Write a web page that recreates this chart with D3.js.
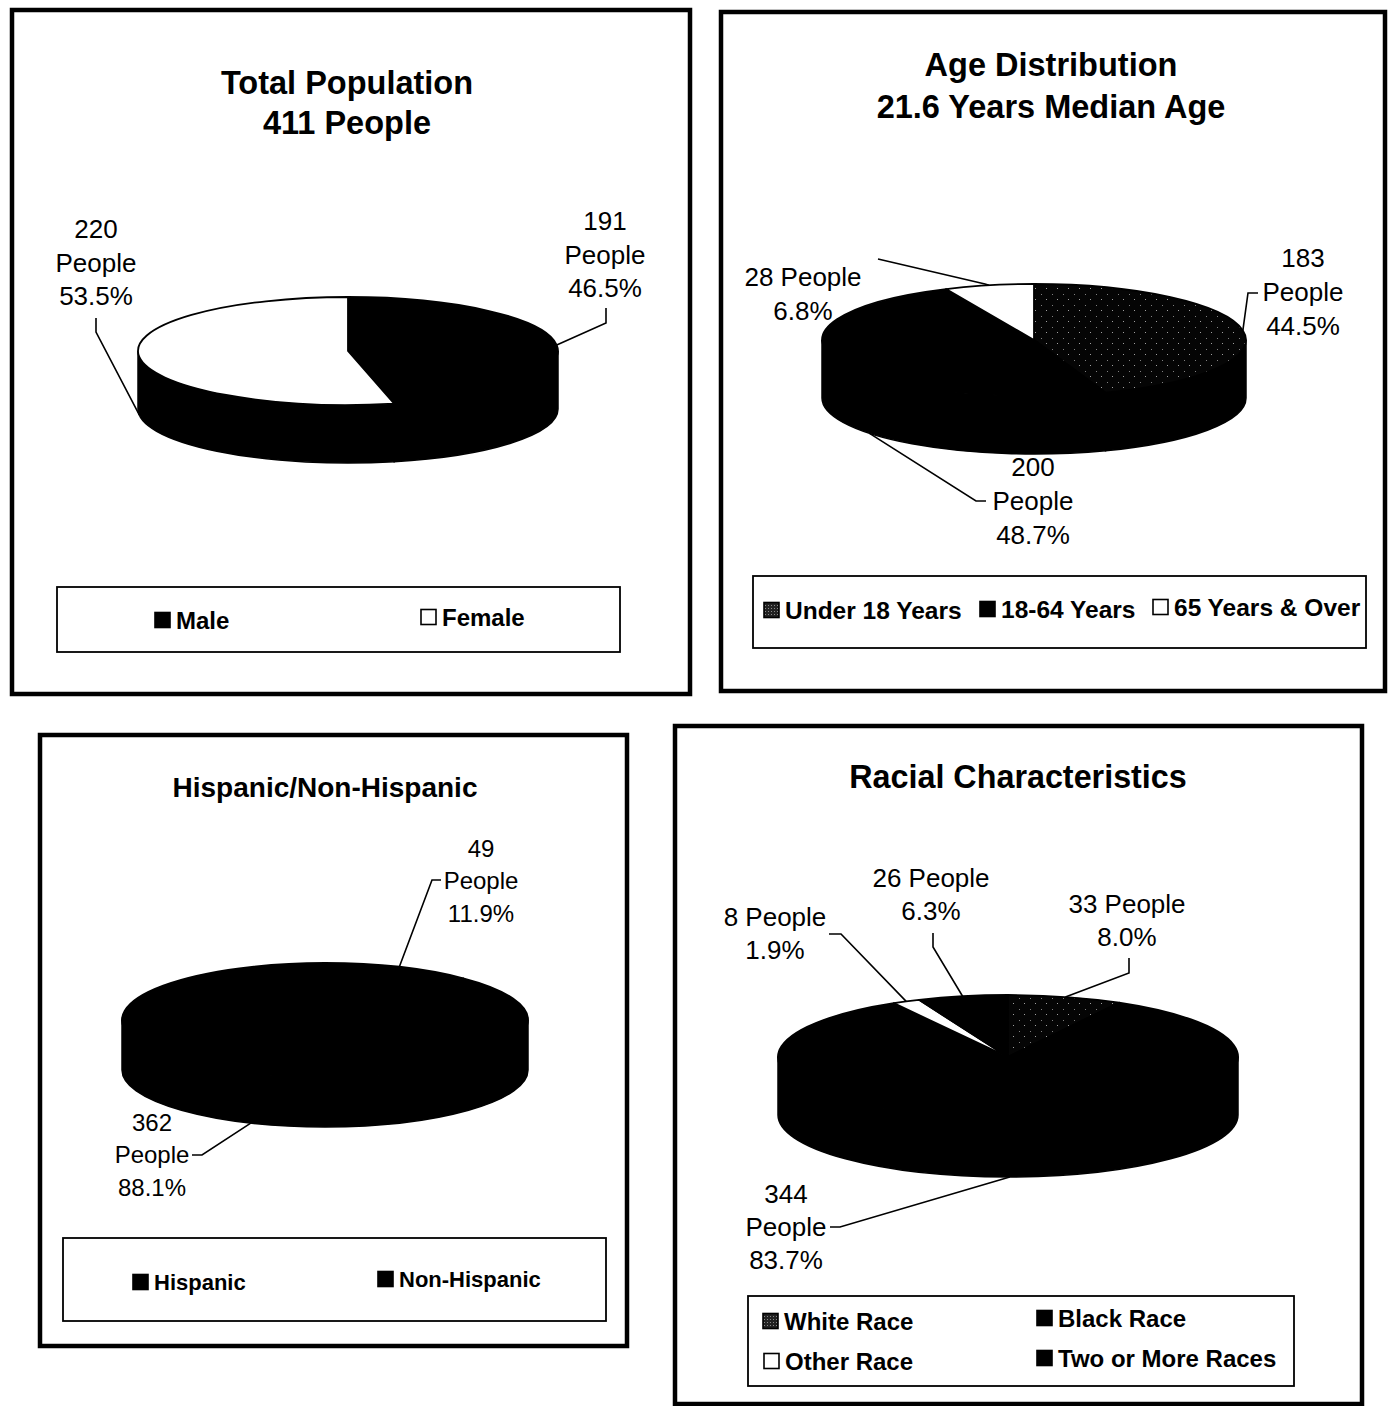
<!DOCTYPE html>
<html>
<head>
<meta charset="utf-8">
<script src="https://cdn.jsdelivr.net/npm/d3@7"></script>
<style>
  html, body { margin: 0; padding: 0; background: #fff; }
  svg { display: block; font-family: "Liberation Sans", Arial, Helvetica, sans-serif; }
</style>
</head>
<body>
<svg id="chart" width="1388" height="1406"></svg>
<script>
// ---- Data ----
const popTitle = ["Total Population", "411 People"];
const popCategories = ["Male", "Female"];
const popValues = [191, 220];

const ageTitle = ["Age Distribution", "21.6 Years Median Age"];
const ageCategories = ["Under 18 Years", "18-64 Years", "65 Years & Over"];
const ageValues = [183, 200, 28];

const hispTitle = ["Hispanic/Non-Hispanic"];
const hispCategories = ["Hispanic", "Non-Hispanic"];
const hispValues = [49, 362];

const raceTitle = ["Racial Characteristics"];
const raceCategories = ["White Race", "Black Race", "Other Race", "Two or More Races"];
const raceValues = [33, 344, 8, 26];

// ---- Layout & style ----
const panels = [
  {
    title: popTitle, categories: popCategories, values: popValues,
    fills: ["#000", "#fff"], legendFills: ["#000", "#fff"],
    frame: [12, 10, 690, 694],
    titleY: [82, 122], titleX: 347, titleSize: 32.5,
    pie: { cx: 348, cy: 351, rx: 210, ry: 54, depth: 58 },
    labelSize: 26, lineGap: 33.5,
    labels: [
      { x: 605, y: 221, wrap: 3, from: [606, 308], elbow: [606, 323] },
      { x: 96, y: 229, wrap: 3, from: [96, 318], elbow: [96, 332] }
    ],
    legendBox: [57, 587, 620, 652], legendSize: 24,
    legend: [[155, 620], [421, 617]]
  },
  {
    title: ageTitle, categories: ageCategories, values: ageValues,
    fills: ["url(#stipple)", "#000", "#fff"], legendFills: ["url(#stippleDense)", "#000", "#fff"],
    frame: [721, 12, 1385, 691],
    titleY: [64, 106], titleX: 1051, titleSize: 32.5,
    pie: { cx: 1034, cy: 340, rx: 212, ry: 56, depth: 58 },
    labelSize: 26, lineGap: 34,
    labels: [
      { x: 1303, y: 258, wrap: 3, from: [1258, 293], elbow: [1248, 293] },
      { x: 1033, y: 467, wrap: 3, from: [986, 501], elbow: [976, 501], shift: -17 },
      { x: 803, y: 277, wrap: 2, from: [878, 259], elbow: [985, 284] }
    ],
    legendBox: [753, 576, 1366, 648], legendSize: 24.5,
    legend: [[764, 610], [980, 609], [1153, 607]]
  },
  {
    title: hispTitle, categories: hispCategories, values: hispValues,
    fills: ["#000", "#000"], legendFills: ["#000", "#000"],
    frame: [40, 735, 627, 1346],
    titleY: [787], titleX: 325, titleSize: 28,
    pie: { cx: 325, cy: 1020, rx: 203, ry: 57, depth: 50 },
    labelSize: 24, lineGap: 32.5,
    labels: [
      { x: 481, y: 848, wrap: 3, from: [441, 880], elbow: [432, 880] },
      { x: 152, y: 1122, wrap: 3, from: [192, 1155], elbow: [202, 1155] }
    ],
    legendBox: [63, 1238, 606, 1321], legendSize: 22,
    legend: [[133, 1282], [378, 1279]]
  },
  {
    title: raceTitle, categories: raceCategories, values: raceValues,
    fills: ["url(#stipple)", "#000", "#fff", "#000"], legendFills: ["url(#stippleDense)", "#000", "#fff", "#000"],
    frame: [675, 726, 1362, 1404],
    titleY: [776], titleX: 1018, titleSize: 32.3,
    pie: { cx: 1008, cy: 1057, rx: 230, ry: 62, depth: 58 },
    labelSize: 26, lineGap: 33,
    labels: [
      { x: 1127, y: 904, wrap: 2, from: [1129, 958], elbow: [1129, 973] },
      { x: 786, y: 1194, wrap: 3, from: [830, 1227], elbow: [840, 1227] },
      { x: 775, y: 917, wrap: 2, from: [829, 934], elbow: [841, 934] },
      { x: 931, y: 878, wrap: 2, from: [933, 933], elbow: [933, 947] }
    ],
    legendBox: [748, 1296, 1294, 1386], legendSize: 24,
    legend: [[763, 1321], [1037, 1318], [764, 1361], [1037, 1358]]
  }
];

const svg = d3.select("#chart");
const defs = svg.append("defs");

// speckled dark fill used for the "white race" / "under 18" wedges
const stip = defs.append("pattern").attr("id", "stipple")
  .attr("patternUnits", "userSpaceOnUse").attr("width", 11).attr("height", 11);
stip.append("rect").attr("width", 11).attr("height", 11).attr("fill", "#050505");
stip.append("rect").attr("x", 1).attr("y", 2).attr("width", 1).attr("height", 1).attr("fill", "#a0a0a0");
stip.append("rect").attr("x", 7).attr("y", 8).attr("width", 1).attr("height", 1).attr("fill", "#808080");

const stipD = defs.append("pattern").attr("id", "stippleDense")
  .attr("patternUnits", "userSpaceOnUse").attr("width", 3).attr("height", 3);
stipD.append("rect").attr("width", 3).attr("height", 3).attr("fill", "#222");
stipD.append("rect").attr("x", 1).attr("y", 1).attr("width", 1).attr("height", 1).attr("fill", "#888");

const pct = d3.format(".1%");
const pieGen = d3.pie().sort(null).value(d => d);

panels.forEach(p => {
  const g = svg.append("g");
  const total = d3.sum(p.values);
  const arcs = pieGen(p.values);
  const { cx, cy, rx, ry, depth } = p.pie;
  const pt = (a, dy = 0) => [cx + rx * Math.sin(a), cy - ry * Math.cos(a) + dy];

  // frame
  const [fx0, fy0, fx1, fy1] = p.frame;
  g.append("rect").attr("x", fx0).attr("y", fy0)
    .attr("width", fx1 - fx0).attr("height", fy1 - fy0)
    .attr("fill", "none").attr("stroke", "#000").attr("stroke-width", 4.5);

  // title
  g.selectAll("text.title").data(p.title).join("text")
    .attr("class", "title")
    .attr("x", p.titleX).attr("y", (d, i) => p.titleY[i]).attr("dy", "0.36em")
    .attr("text-anchor", "middle").attr("font-weight", "bold")
    .attr("font-size", p.titleSize).text(d => d);

  // side wall of each wedge where it faces the viewer
  const front0 = Math.PI / 2, front1 = Math.PI * 1.5;
  g.selectAll("path.side").data(arcs).join("path")
    .attr("class", "side")
    .attr("d", d => {
      const s = Math.max(d.startAngle, front0), e = Math.min(d.endAngle, front1);
      if (e <= s) return null;
      const a = pt(s), b = pt(e), c = pt(e, depth), f = pt(s, depth);
      return `M${a}A${rx},${ry} 0 0 1 ${b}L${c}A${rx},${ry} 0 0 0 ${f}Z`;
    })
    .attr("fill", "#000").attr("stroke", "#000").attr("stroke-width", 1.5);

  // top faces
  g.selectAll("path.top").data(arcs).join("path")
    .attr("class", "top")
    .attr("d", d => {
      const a = pt(d.startAngle), b = pt(d.endAngle);
      const large = d.endAngle - d.startAngle > Math.PI ? 1 : 0;
      return `M${cx},${cy}L${a}A${rx},${ry} 0 ${large} 1 ${b}Z`;
    })
    .attr("fill", (d, i) => p.fills[i])
    .attr("stroke", "#000").attr("stroke-width", 1.8).attr("stroke-linejoin", "round");

  // data labels and leader lines
  arcs.forEach((d, i) => {
    const L = p.labels[i];
    const mid = (d.startAngle + d.endAngle) / 2 + (L.shift || 0) * Math.PI / 180;
    const frontFacing = Math.cos(mid) < 0;
    const anchor = pt(mid, frontFacing ? depth : 0);
    g.append("path")
      .attr("d", d3.line()([L.from, L.elbow, anchor]))
      .attr("fill", "none").attr("stroke", "#000").attr("stroke-width", 1.6);

    const lines = L.wrap === 3
      ? [String(d.data), "People", pct(d.data / total)]
      : [d.data + " People", pct(d.data / total)];
    const t = g.append("text").attr("text-anchor", "middle").attr("font-size", p.labelSize);
    lines.forEach((s, k) => {
      t.append("tspan").attr("x", L.x).attr("y", L.y + k * p.lineGap).attr("dy", "0.36em").text(s);
    });
  });

  // legend
  const [lx0, ly0, lx1, ly1] = p.legendBox;
  g.append("rect").attr("x", lx0).attr("y", ly0)
    .attr("width", lx1 - lx0).attr("height", ly1 - ly0)
    .attr("fill", "#fff").attr("stroke", "#000").attr("stroke-width", 1.8);
  const items = g.selectAll("g.leg").data(p.categories).join("g")
    .attr("class", "leg")
    .attr("transform", (d, i) => `translate(${p.legend[i][0]},${p.legend[i][1]})`);
  items.append("rect").attr("x", 0).attr("y", -7.5).attr("width", 15).attr("height", 15)
    .attr("fill", (d, i) => p.legendFills[i]).attr("stroke", "#000").attr("stroke-width", 1.6);
  items.append("text").attr("x", 21).attr("dy", "0.36em")
    .attr("font-weight", "bold").attr("font-size", p.legendSize).text(d => d);
});
</script>
</body>
</html>
